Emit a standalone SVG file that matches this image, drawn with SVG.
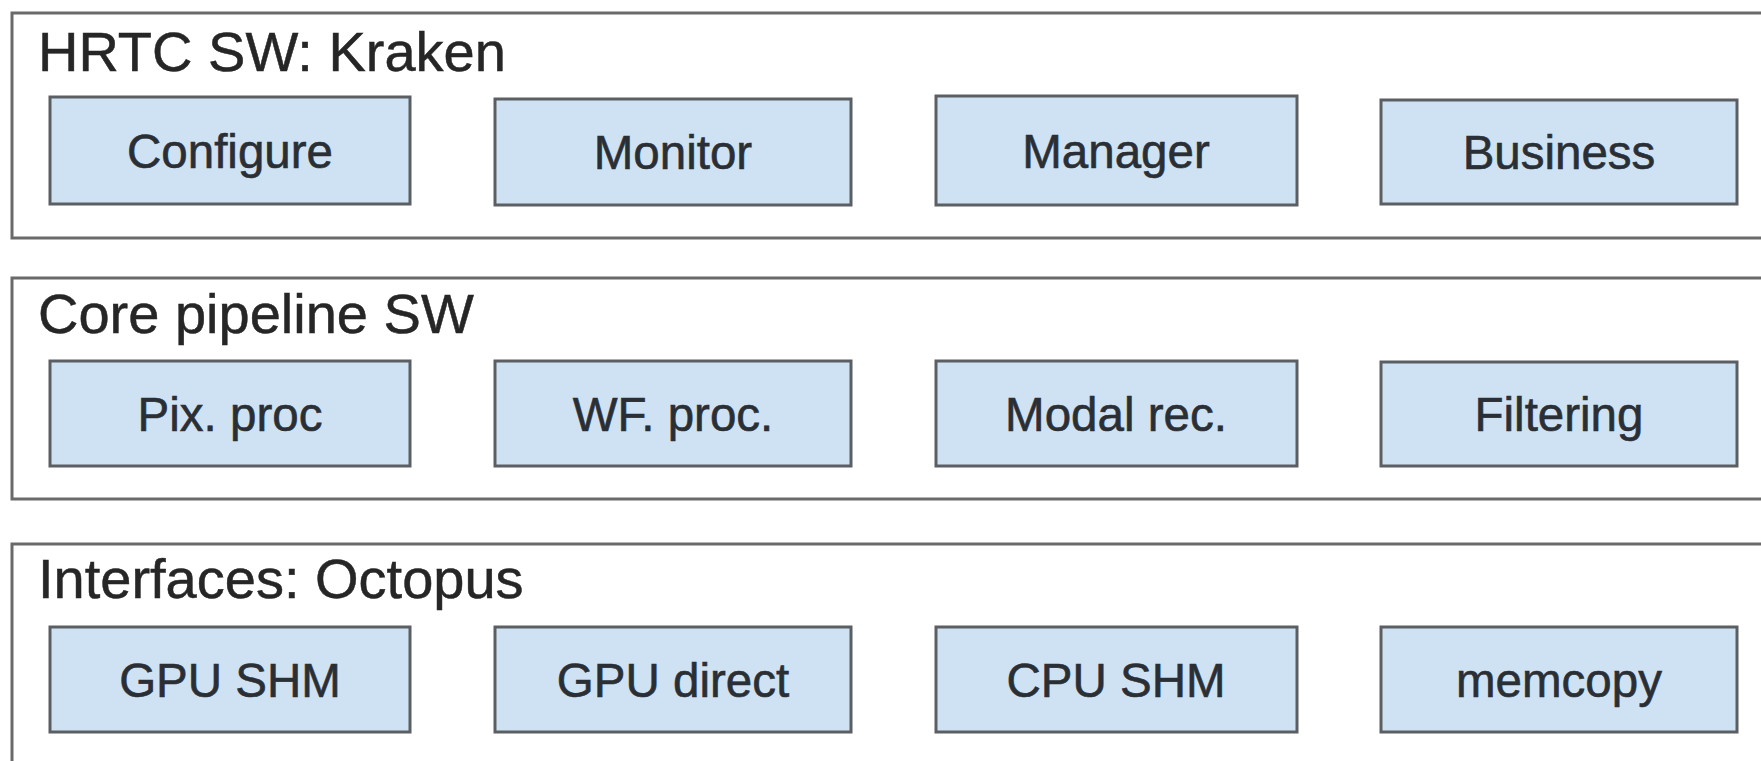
<svg xmlns="http://www.w3.org/2000/svg" width="1761" height="761" viewBox="0 0 1761 761">
  <style>
    .layer { fill: #ffffff; stroke: #6a6a6a; stroke-width: 3; }
    .layer-title { font-family: "Liberation Sans", Arial, sans-serif; font-size: 56px; fill: #262626; stroke: #262626; stroke-width: 0.5; }
    .block { fill: #cfe2f3; stroke: #5b5f63; stroke-width: 3; }
    .block-label { font-family: "Liberation Sans", Arial, sans-serif; font-size: 47.5px; fill: #2a2f35; stroke: #2a2f35; stroke-width: 0.6; text-anchor: middle; }
  </style>
  <rect x="0" y="0" width="1761" height="761" fill="#ffffff"/>

  <!-- Layer 1: HRTC SW -->
  <g id="layer-hrtc">
    <rect class="layer" x="12" y="13" width="1770" height="225"/>
    <text class="layer-title" x="38" y="71">HRTC SW: Kraken</text>
  </g>
  <g id="configure">
    <rect class="block" x="50" y="97" width="360" height="107"/>
    <text class="block-label" x="230" y="168">Configure</text>
  </g>
  <g id="monitor">
    <rect class="block" x="495" y="99" width="356" height="106"/>
    <text class="block-label" x="673" y="169">Monitor</text>
  </g>
  <g id="manager">
    <rect class="block" x="936" y="96" width="361" height="109"/>
    <text class="block-label" x="1116" y="168">Manager</text>
  </g>
  <g id="business">
    <rect class="block" x="1381" y="100" width="356" height="104"/>
    <text class="block-label" x="1559" y="169">Business</text>
  </g>

  <!-- Layer 2: Core pipeline -->
  <g id="layer-core">
    <rect class="layer" x="12" y="278" width="1770" height="221"/>
    <text class="layer-title" x="38" y="333">Core pipeline SW</text>
  </g>
  <g id="pix-proc">
    <rect class="block" x="50" y="361" width="360" height="105"/>
    <text class="block-label" x="230" y="431">Pix. proc</text>
  </g>
  <g id="wf-proc">
    <rect class="block" x="495" y="361" width="356" height="105"/>
    <text class="block-label" x="673" y="431">WF. proc.</text>
  </g>
  <g id="modal-rec">
    <rect class="block" x="936" y="361" width="361" height="105"/>
    <text class="block-label" x="1116" y="431">Modal rec.</text>
  </g>
  <g id="filtering">
    <rect class="block" x="1381" y="362" width="356" height="104"/>
    <text class="block-label" x="1559" y="431">Filtering</text>
  </g>

  <!-- Layer 3: Interfaces -->
  <g id="layer-interfaces">
    <rect class="layer" x="12" y="544" width="1770" height="260"/>
    <text class="layer-title" x="38" y="598">Interfaces: Octopus</text>
  </g>
  <g id="gpu-shm">
    <rect class="block" x="50" y="627" width="360" height="105"/>
    <text class="block-label" x="230" y="697">GPU SHM</text>
  </g>
  <g id="gpu-direct">
    <rect class="block" x="495" y="627" width="356" height="105"/>
    <text class="block-label" x="673" y="697">GPU direct</text>
  </g>
  <g id="cpu-shm">
    <rect class="block" x="936" y="627" width="361" height="105"/>
    <text class="block-label" x="1116" y="697">CPU SHM</text>
  </g>
  <g id="memcopy">
    <rect class="block" x="1381" y="627" width="356" height="105"/>
    <text class="block-label" x="1559" y="697">memcopy</text>
  </g>

  <!-- no connectors between blocks -->
  <g id="connectors"></g>
</svg>
